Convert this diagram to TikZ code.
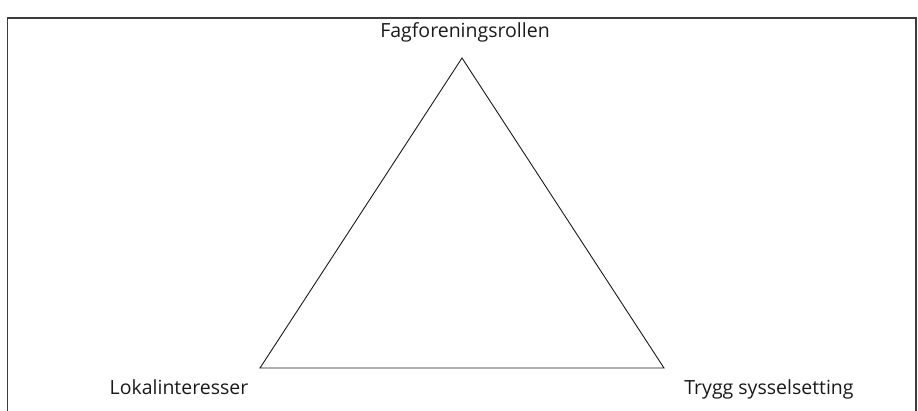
\documentclass[tikz,border=0pt]{standalone}
\usepackage{fontspec}
\setmainfont{Open Sans}
\usetikzlibrary{positioning}
\definecolor{cInk}{HTML}{1A1A1A}
\definecolor{cFrame}{HTML}{3C3C3C}
\tikzset{
  cornerlabel/.style={font=\fontsize{19.5}{23}\selectfont, text=cInk, inner sep=0pt, anchor=base},
  sideline/.style={draw=cInk, line width=0.9pt, line join=miter},
  framebox/.style={draw=cFrame, line width=1.8pt},
}
\begin{document}
\begin{tikzpicture}[x=1pt, y=-1pt]
  \useasboundingbox (0,0) rectangle (918,411);
  \clip (0,0) rectangle (918,411);

  % Outer frame
  \draw[framebox] (7.5,18) rectangle (916,440);

  % Triangle corners
  \coordinate (apex) at (462,58);
  \coordinate (baseL) at (260,368);
  \coordinate (baseR) at (664,368);
  \draw[sideline] (apex) -- (baseL) -- (baseR) -- cycle;

  % Corner labels
  \node[cornerlabel] (union) at (465,38) {Fagforeningsrollen};
  \node[cornerlabel] (local) at (179,394) {Lokalinteresser};
  \node[cornerlabel] (secure) at (769,394) {Trygg sysselsetting};

\end{tikzpicture}
\end{document}
